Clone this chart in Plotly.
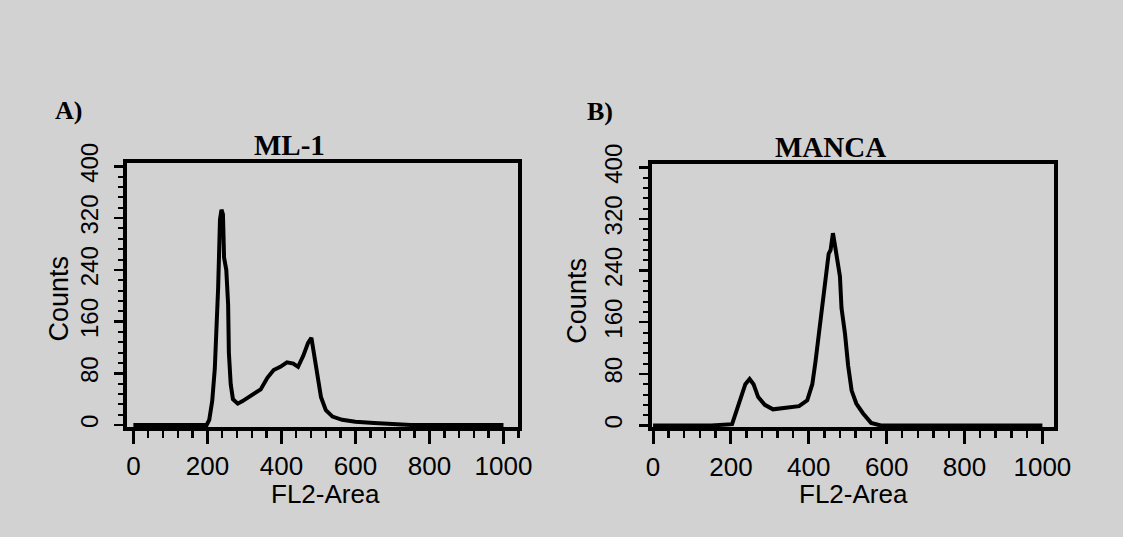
import plotly.graph_objects as go

# ---- data ----
ml1_x = [0, 150, 198, 205, 213, 220, 225, 229, 234, 238, 242, 245, 251, 256, 258, 263, 269, 282, 295, 317,
         344, 362, 379, 397, 415, 432, 445, 459, 472, 481, 489, 498, 507, 520, 538, 564, 600, 650, 700, 750, 1000]
ml1_y = [0, 0, 0, 8, 37, 87, 151, 212, 318, 333, 326, 259, 240, 186, 112, 63, 40, 33, 37, 45,
         55, 73, 85, 90, 97, 95, 90, 107, 127, 135, 107, 73, 43, 23, 13, 8, 5, 3, 2, 0, 0]

manca_x = [0, 150, 203, 216, 228, 237, 248, 258, 270, 287, 308, 342, 375, 396, 409, 417, 426, 434, 443,
           451, 456, 462, 467, 472, 480, 484, 493, 501, 510, 522, 539, 560, 585, 1000]
manca_y = [0, 0, 2, 24, 46, 64, 72, 64, 44, 32, 25, 27, 30, 39, 64, 98, 142, 192, 226,
           266, 272, 298, 280, 261, 231, 182, 142, 93, 54, 34, 19, 4, 0, 0]

x_ticks = [0, 200, 400, 600, 800, 1000]
x_ticklabels = ["0", "200", "400", "600", "800", "1000"]
y_ticks = [0, 80, 160, 240, 320, 400]
y_ticklabels = ["0", "80", "160", "240", "320", "400"]

panel_titles = ["ML-1", "MANCA"]
panel_letters = ["A)", "B)"]
x_title = "FL2-Area"
y_title = "Counts"

W, H = 1123, 537
BG = "#d2d2d2"
SANS = "Liberation Sans, Arial, sans-serif"
SERIF = "Liberation Serif, Times New Roman, serif"


def px_x(p):
    return p / W


def px_y(p):
    return 1 - p / H


fig = go.Figure()
fig.add_trace(go.Scatter(x=ml1_x, y=ml1_y, mode="lines", line=dict(color="black", width=4),
                         xaxis="x", yaxis="y", showlegend=False, hoverinfo="skip"))
fig.add_trace(go.Scatter(x=manca_x, y=manca_y, mode="lines", line=dict(color="black", width=4),
                         xaxis="x2", yaxis="y2", showlegend=False, hoverinfo="skip"))


def xaxis_cfg(domain, rng, anchor):
    return dict(domain=domain, range=rng, anchor=anchor, showgrid=False, zeroline=False,
                showline=True, linecolor="black", linewidth=4, mirror=True,
                tickmode="array", tickvals=x_ticks, ticktext=x_ticklabels,
                ticks="outside", ticklen=13, tickwidth=3, tickcolor="black",
                minor=dict(dtick=40, tick0=0, ticks="outside", ticklen=7, tickwidth=2.5, tickcolor="black"),
                tickfont=dict(family=SANS, size=26, color="black"), ticklabelstandoff=0)


def yaxis_cfg(domain, rng, anchor):
    return dict(domain=domain, range=rng, anchor=anchor, showgrid=False, zeroline=False,
                showline=True, linecolor="black", linewidth=4, mirror=True,
                tickmode="array", tickvals=y_ticks, ticktext=y_ticklabels,
                ticks="outside", ticklen=9, tickwidth=2.5, tickcolor="black", tickangle=-90,
                minor=dict(dtick=16, tick0=0, ticks="outside", ticklen=5, tickwidth=2, tickcolor="black"),
                tickfont=dict(family=SANS, size=24, color="black"), ticklabelstandoff=7)


fig.update_layout(
    width=W, height=H, margin=dict(l=0, r=0, t=0, b=0),
    paper_bgcolor=BG, plot_bgcolor=BG,
    xaxis=xaxis_cfg([px_x(124), px_x(523)], [-16, 1040], "y"),
    yaxis=yaxis_cfg([px_y(423.5), px_y(149)], [-3, 405], "x"),
    xaxis2=xaxis_cfg([px_x(659), px_x(1070)], [-4, 1030], "y2"),
    yaxis2=yaxis_cfg([px_y(424), px_y(150)], [-3, 405], "x2"),
)

ann = []
letter_font = dict(family=SERIF, size=26, color="black")
ann.append(dict(text=f"<b>{panel_letters[0]}</b>", x=px_x(64), y=px_y(94), font=letter_font))
ann.append(dict(text=f"<b>{panel_letters[1]}</b>", x=px_x(606), y=px_y(95), font=letter_font))
ann.append(dict(text=f"<b>{panel_titles[0]}</b>", x=px_x(289), y=px_y(130),
                font=dict(family=SERIF, size=29, color="black")))
ann.append(dict(text=f"<b>{panel_titles[1]}</b>", x=px_x(842), y=px_y(132),
                font=dict(family=SERIF, size=29, color="black")))
for cx in (326, 865):
    ann.append(dict(text=x_title, x=px_x(cx), y=px_y(493),
                    font=dict(family=SANS, size=26, color="black")))
for cx, cy in ((54, 290), (583, 292)):
    ann.append(dict(text=y_title, x=px_x(cx), y=px_y(cy), textangle=-90,
                    font=dict(family=SANS, size=27, color="black")))

for a in ann:
    a.update(xref="paper", yref="paper", showarrow=False, xanchor="center", yanchor="middle")
fig.update_layout(annotations=ann, hovermode=False)

fig.write_html(
    "out.html",
    config={"displayModeBar": False, "staticPlot": True},
    post_script=("document.documentElement.style.margin='0';document.body.style.margin='0';"
                 "document.body.style.padding='0';document.body.style.overflow='hidden';"
                 "document.body.style.background='" + BG + "';"),
)
